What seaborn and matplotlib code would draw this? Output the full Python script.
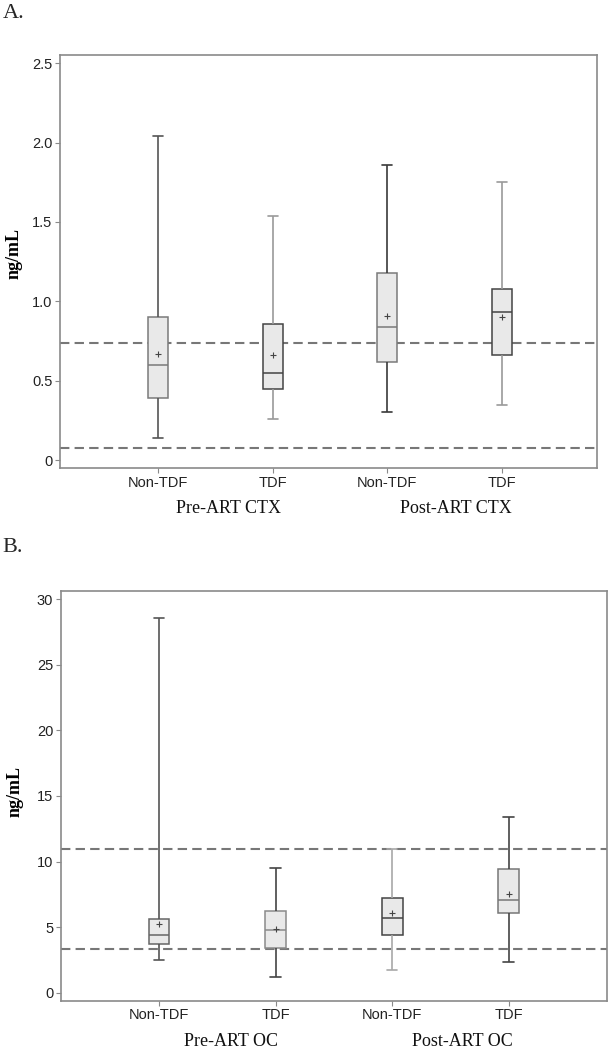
import numpy as np
import pandas as pd
import matplotlib
matplotlib.use("Agg")
import matplotlib.pyplot as plt
import matplotlib.transforms as mtransforms
import seaborn as sns

# ---------------- data ----------------
box_ids = ["Pre Non-TDF", "Pre TDF", "Post Non-TDF", "Post TDF"]
tick_labels = ["Non-TDF", "TDF", "Non-TDF", "TDF"]

ctx_groups = ["Pre-ART CTX", "Post-ART CTX"]
ctx_low = [0.14, 0.26, 0.30, 0.35]
ctx_q1 = [0.39, 0.45, 0.62, 0.66]
ctx_med = [0.60, 0.55, 0.84, 0.93]
ctx_q3 = [0.90, 0.86, 1.18, 1.08]
ctx_high = [2.04, 1.54, 1.86, 1.75]
ctx_mean = [0.67, 0.66, 0.91, 0.90]
ctx_ref = [0.074, 0.74]
ctx_yticks = [0, 0.5, 1.0, 1.5, 2.0, 2.5]
ctx_yticklabels = ["0", "0.5", "1.0", "1.5", "2.0", "2.5"]

oc_groups = ["Pre-ART OC", "Post-ART OC"]
oc_low = [2.49, 1.22, 1.71, 2.37]
oc_q1 = [3.71, 3.38, 4.40, 6.10]
oc_med = [4.38, 4.81, 5.70, 7.10]
oc_q3 = [5.62, 6.23, 7.25, 9.44]
oc_high = [28.56, 9.51, 10.94, 13.43]
oc_mean = [5.22, 4.84, 6.08, 7.51]
oc_ref = [3.32, 10.95]
oc_yticks = [0, 5, 10, 15, 20, 25, 30]
oc_yticklabels = ["0", "5", "10", "15", "20", "25", "30"]

# ---------------- style ----------------
sns.set_theme(style="white")
plt.rcParams["font.family"] = ["Liberation Sans", "DejaVu Sans"]
SERIF = ["Liberation Serif", "DejaVu Serif"]

FILL = "#e9e9e9"
SPINE = "#8a8a8a"

ctx_whisker_colors = ["#555555", "#9a9a9a", "#3a3a3a", "#9a9a9a"]
ctx_box_colors = ["#7a7a7a", "#444444", "#7a7a7a", "#444444"]
oc_whisker_colors = ["#555555", "#444444", "#a8a8a8", "#444444"]
oc_box_colors = ["#666666", "#8a8a8a", "#444444", "#777777"]


def five_number_frame(low, q1, med, q3, high):
    rows = []
    for i, b in enumerate(box_ids):
        for v in (low[i], q1[i], med[i], q3[i], high[i]):
            rows.append({"box": b, "value": v})
    return pd.DataFrame(rows)


def draw_panel(ax, low, q1, med, q3, high, mean, ref, yticks, yticklabels,
               ylim, xlim, width, wcolors, bcolors, groups, group_x, group_y):
    df = five_number_frame(low, q1, med, q3, high)
    for i, b in enumerate(box_ids):
        sub = df[df["box"] == b]
        sns.boxplot(data=sub, x="box", y="value", order=box_ids, ax=ax,
                    color=FILL, saturation=1, width=width, whis=np.inf,
                    showfliers=False, linewidth=1.0,
                    boxprops=dict(edgecolor=bcolors[i], facecolor=FILL, linewidth=1.1),
                    medianprops=dict(color=bcolors[i], linewidth=1.1),
                    whiskerprops=dict(color=wcolors[i], linewidth=1.2),
                    capprops=dict(color=wcolors[i], linewidth=1.2))
    mdf = pd.DataFrame({"box": box_ids, "mean": mean})
    sns.stripplot(data=mdf, x="box", y="mean", order=box_ids, ax=ax,
                  jitter=False, marker="+", s=5, color="#444444", linewidth=0.8)
    for r in ref:
        ax.axhline(r, color="#777777", linewidth=1.5, linestyle=(0, (4.5, 2.5)), zorder=0.5)

    ax.set_xlim(*xlim)
    ax.set_ylim(*ylim)
    ax.set_xticks(range(len(box_ids)))
    ax.set_xticklabels(tick_labels, fontsize=10.5, color="#222222")
    ax.set_yticks(yticks)
    ax.set_yticklabels(yticklabels, fontsize=10.5, color="#222222")
    ax.set_xlabel("")
    ax.set_ylabel("ng/mL", fontsize=13, family=SERIF, color="black", fontweight="bold")
    ax.yaxis.set_label_coords(-0.069, 0.52)
    ax.tick_params(axis="both", which="both", length=3.5, width=0.8,
                   color=SPINE, pad=2, bottom=True, left=True)
    for sp in ax.spines.values():
        sp.set_visible(True)
        sp.set_color(SPINE)
        sp.set_linewidth(1.2)
    trans = mtransforms.blended_transform_factory(ax.transData, ax.transAxes)
    for g, gx in zip(groups, group_x):
        ax.text(gx, group_y, g, transform=trans, ha="center", va="center",
                fontsize=13, family=SERIF, color="#111111")


fig = plt.figure(figsize=(6.11, 10.5), dpi=100)
ax1 = fig.add_axes([0.0982, 0.5543, 0.879, 0.3933])
ax2 = fig.add_axes([0.0998, 0.04695, 0.8936, 0.3902])

draw_panel(ax1, ctx_low, ctx_q1, ctx_med, ctx_q3, ctx_high, ctx_mean, ctx_ref,
           ctx_yticks, ctx_yticklabels, (-0.05, 2.552), (-0.859, 3.832), 0.175,
           ctx_whisker_colors, ctx_box_colors, ctx_groups, [0.61, 2.60], -0.097)
draw_panel(ax2, oc_low, oc_q1, oc_med, oc_q3, oc_high, oc_mean, oc_ref,
           oc_yticks, oc_yticklabels, (-0.61, 30.63), (-0.841, 3.843), 0.18,
           oc_whisker_colors, oc_box_colors, oc_groups, [0.62, 2.60], -0.100)
ax2.yaxis.set_label_coords(-0.068, 0.51)

fig.text(0.004, 1 - 13 / 1050, "A.", fontsize=16, family=SERIF, va="center", ha="left")
fig.text(0.004, 1 - 548 / 1050, "B.", fontsize=16, family=SERIF, va="center", ha="left")

fig.savefig("out.png", dpi=100)
